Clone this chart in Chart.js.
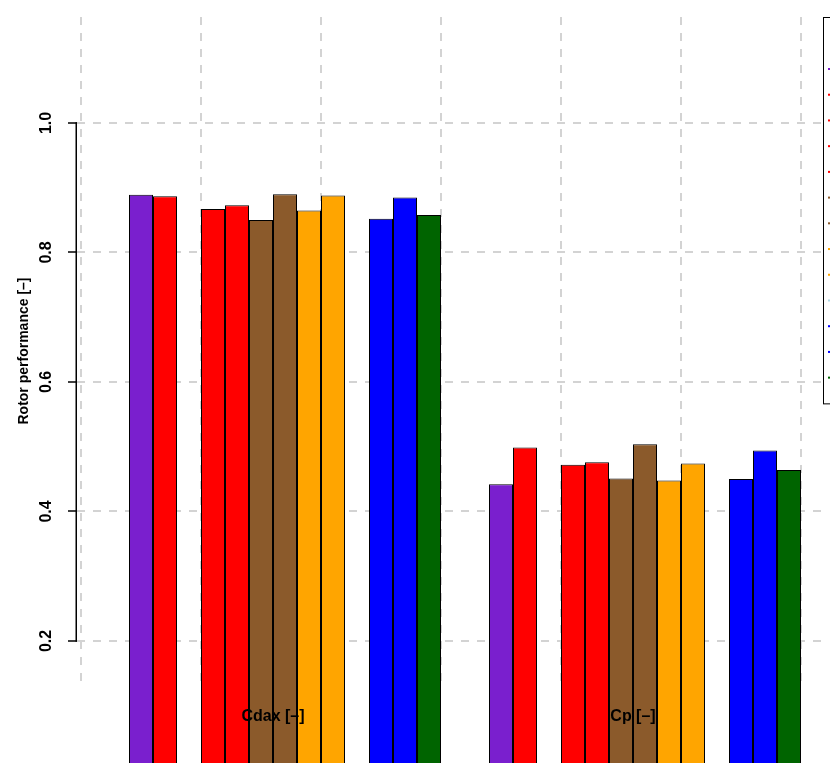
<!DOCTYPE html>
<html>
<head>
<meta charset="utf-8">
<title>Rotor performance</title>
<script src="https://cdn.jsdelivr.net/npm/chart.js@4.4.1/dist/chart.umd.min.js"></script>
<style>
  html, body { margin: 0; padding: 0; background: #fff; }
  #wrap { width: 830px; height: 763px; overflow: hidden; }
  #chart1 { display: block; }
</style>
</head>
<body>
<div id="wrap"><canvas id="chart1" width="863" height="763"></canvas></div>
<script>
// rotor performance, grouped bars

var categories = ['Cdax [–]', 'Cp [–]'];

var seriesNames = ['Model 1', 'Model 2', 'Model 3', 'Model 4', 'Model 5', 'Model 6', 'Model 7',
                   'Model 8', 'Model 9', 'Model 10', 'Model 11', 'Model 12', 'Model 13'];

var seriesColors = ['#7a1fce', '#ff0000', '#ff0000', '#ff0000', '#ff0000', '#8b5a2b', '#8b5a2b',
                    '#ffa500', '#ffa500', '#add8e6', '#0000ff', '#0000ff', '#006400'];

// one value per category (Cdax, Cp)
var model1 = [0.889, 0.442];
var model2 = [0.887, 0.499];
var model3 = [null, null];
var model4 = [0.867, 0.472];
var model5 = [0.873, 0.476];
var model6 = [0.850, 0.451];
var model7 = [0.890, 0.504];
var model8 = [0.865, 0.448];
var model9 = [0.888, 0.474];
var model10 = [null, null];
var model11 = [0.852, 0.450];
var model12 = [0.885, 0.494];
var model13 = [0.858, 0.464];

var seriesValues = [model1, model2, model3, model4, model5, model6, model7,
                    model8, model9, model10, model11, model12, model13];

var yTicks = [0.2, 0.4, 0.6, 0.8, 1.0];
var yRange = [0.1320, 1.1637];

// x axis in bar units, like barplot(beside = TRUE, space = c(0, 2))
var groupGap = 2;
var gridX = [0, 5, 10, 15, 20, 25, 30];
var xRange = [-0.1667, 30.9167];

var nSeries = seriesNames.length;
var groupPos = categories.map(function(c, i) {
  return groupGap * (i + 1) + nSeries * i + nSeries / 2;
});

Chart.defaults.font.family = "'Liberation Sans', Arial, Helvetica, sans-serif";
Chart.defaults.color = '#000';

var gridGrey = '#d3d3d3';

// y axis line only between first and last tick
var axisLine = {
  id: 'axisLine',
  afterDraw: function(chart) {
    var y = chart.scales.y, ctx = chart.ctx;
    ctx.save();
    ctx.strokeStyle = '#000';
    ctx.lineWidth = 1.5;
    ctx.beginPath();
    ctx.moveTo(y.right - 0.75, y.getPixelForValue(yTicks[0]) + 0.75);
    ctx.lineTo(y.right - 0.75, y.getPixelForValue(yTicks[yTicks.length - 1]) - 0.75);
    ctx.stroke();
    ctx.restore();
  }
};

// box round the legend
var legendFrame = {
  id: 'legendFrame',
  afterDraw: function(chart) {
    var lg = chart.legend, ctx = chart.ctx;
    var boxes = lg.legendHitBoxes, pad = lg.options.labels.padding;
    var last = boxes[boxes.length - 1];
    var bottom = last.top + last.height * 1.5 + pad;
    ctx.save();
    ctx.strokeStyle = '#000';
    ctx.lineWidth = 1;
    ctx.strokeRect(lg.left + 0.5, lg.top + 0.5, lg.width + 10, bottom - lg.top);
    ctx.restore();
  }
};

var graph = document.getElementById('chart1');

var myChart = new Chart(graph, {
  type: 'bar',
  data: {
    labels: groupPos,
    datasets: seriesNames.map(function(name, i) {
      return {
        label: name,
        data: seriesValues[i],
        backgroundColor: seriesColors[i],
        borderColor: '#000',
        borderWidth: 1,
        xAxisID: 'x',
        clip: false
      };
    })
  }, // ends data
  options: {
    responsive: false,
    animation: false,
    layout: { padding: { left: 13, top: 17, right: 0, bottom: 14 } },
    datasets: {
      bar: { categoryPercentage: nSeries / (nSeries + groupGap), barPercentage: 1 }
    },
    scales: {
      x: {
        type: 'linear',
        position: 'bottom',
        min: xRange[0],
        max: xRange[1],
        bounds: 'data',
        offset: false,
        afterBuildTicks: function(s) {
          s.ticks = groupPos.map(function(v) { return { value: v }; });
        },
        grid: { display: false, drawTicks: false, offset: false },
        border: { display: false },
        ticks: {
          z: 1, // names go over the bars
          autoSkip: false,
          maxRotation: 0,
          padding: 24,
          labelOffset: -12,
          color: '#000',
          font: { size: 16, weight: 'bold', lineHeight: 1 },
          callback: function(v, i) { return categories[i]; }
        }
      },
      xg: {
        type: 'linear',
        position: 'top',
        min: xRange[0],
        max: xRange[1],
        bounds: 'data',
        offset: false,
        afterBuildTicks: function(s) {
          s.ticks = gridX.map(function(v) { return { value: v }; });
        },
        grid: { color: gridGrey, lineWidth: 2, drawTicks: false, offset: false },
        border: { display: false, dash: [8, 8] },
        ticks: { display: false }
      },
      y: {
        type: 'linear',
        min: yRange[0],
        max: yRange[1],
        bounds: 'data',
        afterBuildTicks: function(s) {
          s.ticks = yTicks.map(function(v) { return { value: v }; });
        },
        grid: {
          color: gridGrey,
          lineWidth: 2,
          tickLength: 9,
          tickColor: '#000',
          tickWidth: 1.5,
          tickBorderDash: []
        },
        border: { display: false, dash: [8, 8] },
        ticks: {
          autoSkip: false,
          minRotation: 90,
          maxRotation: 90,
          crossAlign: 'center',
          padding: 9.88,
          color: '#000',
          font: { size: 16, weight: 'bold', lineHeight: 0.8 },
          callback: function(v) { return v.toFixed(1); }
        },
        title: {
          display: true,
          text: 'Rotor performance [–]',
          color: '#000',
          font: { size: 14, weight: 'bold', lineHeight: 1 },
          padding: { top: 4, bottom: 4.44 }
        }
      }
    },
    plugins: {
      legend: {
        position: 'right',
        align: 'start',
        maxWidth: 40,
        title: { display: true, text: '', padding: 11.12 },
        labels: {
          usePointStyle: true,
          pointStyleWidth: 20,
          padding: 5,
          color: '#000',
          font: { size: 20.72 },
          generateLabels: function(chart) {
            return chart.data.datasets.map(function(ds, i) {
              return {
                text: ds.label,
                fillStyle: ds.backgroundColor,
                strokeStyle: ds.backgroundColor,
                lineWidth: 2,
                pointStyle: 'line',
                hidden: false,
                datasetIndex: i
              };
            });
          }
        }
      },
      tooltip: { enabled: false }
    } // ends plugins
  }, // ends options
  plugins: [axisLine, legendFrame]
}); // ends the entire variable
</script>
</body>
</html>
